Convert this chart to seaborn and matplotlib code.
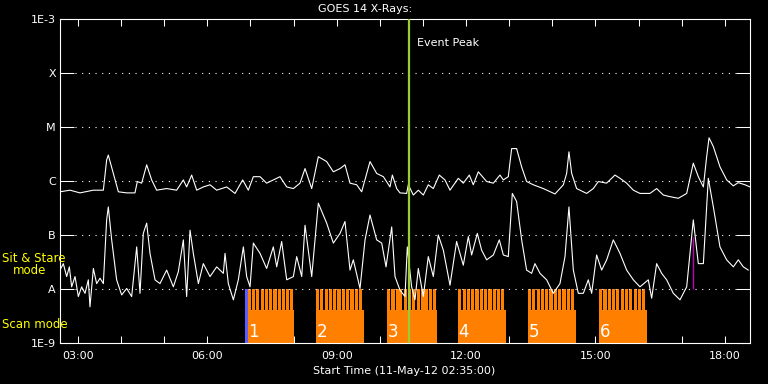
import numpy as np
import pandas as pd
import seaborn as sns
import matplotlib
matplotlib.use("Agg")
import matplotlib.pyplot as plt
import matplotlib.dates as mdates
from matplotlib.ticker import NullLocator

# all times are minutes after the plot start (11-May-12 02:35:00)
t0 = pd.Timestamp("2012-05-11 02:35:00")
t_span = 960

# GOES 14 long channel (1-8 A), log10 flux in W/m^2
long_min = [0, 13.9, 27.8, 46.4, 60.3, 64.9, 67.2, 74.2, 81.2, 92.8,
            104.3, 107.6, 113.6, 120.6, 127.5, 134.5, 148.4, 162.3, 171.6, 176.2,
            183.2, 190.2, 199.4, 208.7, 218.0, 231.9, 243.5, 254.2, 262.0, 269.0,
            278.3, 287.5, 296.8, 306.1, 315.4, 324.7, 333.9, 340.9, 350.2, 359.4,
            371.0, 380.3, 389.6, 396.5, 403.5, 412.8, 419.7, 431.3, 440.6, 449.9,
            459.1, 462.4, 468.4, 473.0, 482.3, 484.6, 491.6, 498.5, 505.5, 512.4,
            519.4, 527.7, 535.6, 542.6, 554.2, 561.1, 569.5, 575.0, 582.0, 593.6,
            602.9, 612.1, 616.8, 623.7, 628.4, 635.3, 642.3, 649.2, 658.5, 672.4,
            688.7, 700.3, 704.9, 708.1, 711.9, 718.8, 732.7, 742.0, 749.0, 760.5,
            772.1, 779.1, 788.4, 797.7, 806.9, 820.8, 830.1, 839.4, 848.7, 860.3,
            871.9, 881.1, 888.1, 895.1, 899.7, 903.0, 908.9, 918.3, 927.6, 936.8,
            943.7, 953.0, 960.0]
long_log = [-6.20, -6.17, -6.22, -6.17, -6.17, -5.61, -5.52, -5.86, -6.20, -6.22,
            -6.22, -6.01, -6.04, -5.70, -5.98, -6.17, -6.14, -6.17, -5.98, -6.11,
            -5.89, -6.17, -6.11, -6.07, -6.17, -6.11, -6.23, -5.98, -6.17, -5.92,
            -5.92, -6.04, -5.98, -5.92, -6.11, -6.14, -6.04, -5.77, -6.14, -5.55,
            -5.64, -5.83, -5.77, -5.70, -6.04, -6.07, -6.20, -5.64, -5.86, -5.92,
            -6.11, -5.89, -6.14, -6.22, -6.23, -6.07, -6.26, -6.17, -6.26, -6.07,
            -6.14, -5.89, -5.98, -6.17, -5.95, -6.04, -5.89, -6.07, -5.83, -6.01,
            -6.04, -5.89, -5.98, -5.92, -5.40, -5.40, -5.74, -6.01, -6.07, -6.14,
            -6.24, -6.07, -5.86, -5.46, -5.86, -6.14, -6.23, -6.14, -6.01, -6.04,
            -5.89, -5.95, -6.04, -6.17, -6.23, -6.23, -6.14, -6.26, -6.29, -6.32,
            -6.23, -5.67, -5.92, -6.11, -5.55, -5.20, -5.36, -5.74, -5.98, -6.09,
            -6.03, -6.07, -6.11]

# GOES 14 short channel (0.5-4 A)
short_min = [0.0, 4.6, 9.3, 13.0, 16.2, 20.9, 25.5, 30.1, 34.8, 39.4,
             41.7, 46.4, 51.0, 55.7, 60.3, 64.9, 67.2, 71.9, 78.8, 85.8,
             92.8, 99.7, 106.7, 111.3, 115.9, 120.6, 125.2, 132.2, 139.1, 148.4,
             157.7, 164.6, 171.6, 176.2, 180.9, 185.5, 192.5, 199.4, 208.7, 218.0,
             227.3, 229.6, 234.2, 241.2, 248.1, 255.1, 259.7, 264.4, 269.0, 278.3,
             287.5, 296.8, 301.5, 308.4, 315.4, 324.7, 329.3, 336.3, 340.9, 350.2,
             359.4, 371.0, 380.3, 389.6, 396.5, 403.5, 408.1, 417.4, 424.4, 431.3,
             440.6, 447.6, 453.6, 461.5, 466.1, 473.0, 480.0, 483.2, 489.2, 493.9,
             498.5, 505.5, 512.4, 519.4, 526.3, 533.3, 542.6, 551.8, 561.1, 568.1,
             572.7, 580.6, 586.6, 593.6, 602.9, 611.2, 616.8, 623.7, 629.3, 635.3,
             642.3, 649.2, 656.2, 660.8, 667.8, 677.1, 686.3, 695.6, 702.6, 708.1,
             714.2, 721.1, 728.1, 735.0, 739.7, 746.6, 753.6, 760.6, 769.8, 779.1,
             788.4, 797.7, 806.9, 818.5, 823.2, 830.1, 837.1, 844.0, 853.3, 862.6,
             871.9, 881.1, 888.1, 895.1, 902.0, 909.0, 918.2, 927.5, 936.8, 943.7,
             950.7, 957.7]
short_log = [-7.65, -7.53, -7.77, -7.59, -7.96, -7.77, -8.14, -7.96, -8.08, -7.83,
             -8.33, -7.62, -7.90, -7.80, -7.90, -6.72, -6.48, -7.09, -7.83, -8.11,
             -7.99, -8.14, -7.22, -8.08, -6.97, -6.78, -7.34, -7.83, -7.90, -7.65,
             -7.96, -7.68, -7.09, -8.14, -6.91, -7.34, -7.90, -7.53, -7.77, -7.59,
             -7.71, -7.34, -7.90, -8.20, -7.83, -7.22, -7.77, -7.96, -7.15, -7.34,
             -7.62, -7.22, -7.59, -7.12, -7.83, -7.77, -7.40, -7.77, -6.82, -7.77,
             -6.41, -6.78, -7.15, -6.97, -6.75, -7.65, -7.46, -7.99, -7.09, -6.63,
             -7.09, -7.15, -7.59, -6.85, -7.77, -8.02, -8.14, -7.22, -7.96, -8.20,
             -7.62, -8.14, -7.40, -7.77, -7.00, -7.28, -7.93, -7.12, -7.56, -7.03,
             -7.37, -6.97, -7.28, -7.46, -7.37, -7.09, -7.37, -7.40, -6.23, -6.38,
             -7.09, -7.65, -7.71, -7.53, -7.71, -7.83, -8.08, -7.90, -7.40, -6.48,
             -7.65, -8.08, -8.08, -7.83, -8.08, -7.37, -7.65, -7.46, -7.09, -7.34,
             -7.65, -7.83, -7.96, -7.83, -8.17, -7.53, -7.71, -7.83, -8.08, -8.20,
             -7.96, -6.72, -7.53, -7.53, -5.95, -6.48, -7.22, -7.46, -7.59, -7.46,
             -7.59, -7.65]

# IRIS observing blocks (scan mode) and their sit & stare rasters
block_start = [261.1, 356.2, 455.0, 553.7, 651.1, 749.9]
block_end = [325.6, 423.0, 524.5, 620.5, 717.9, 816.7]
block_label = ["1", "2", "3", "4", "5", "6"]
raster_start = [
    [261, 267, 273, 279, 285, 291, 297, 303, 309, 314, 320],
    [356, 362, 368, 374, 380, 386, 392, 398, 404, 410, 416],
    [455, 461, 467, 472, 478, 484, 490, 496, 502, 507, 513, 519],
    [554, 560, 566, 572, 578, 584, 590, 596, 602, 608, 614],
    [651, 657, 663, 669, 675, 681, 687, 693, 699, 705, 711],
    [750, 756, 762, 768, 774, 780, 786, 792, 798, 804, 810],
]
raster_len = 4.4
stare_start, stare_end = 257.4, 261.1
event_peak = 485.6
flare_mark = 880.7
flare_mark_top = -7.04

level_val = [1e-9, 1e-8, 1e-7, 1e-6, 1e-5, 1e-4, 1e-3]
level_lab = ["1E-9", "A", "B", "C", "M", "X", "1E-3"]


def tnum(m):
    return mdates.date2num(t0 + pd.to_timedelta(np.asarray(m, dtype=float), unit="m"))


def tdays(m):
    return np.asarray(m, dtype=float) / 1440.0


sns.set_style("dark", {"axes.facecolor": "black", "figure.facecolor": "black",
                       "axes.edgecolor": "white", "text.color": "white",
                       "xtick.color": "white", "ytick.color": "white"})
plt.rcParams["font.family"] = ["DejaVu Sans"]

fig = plt.figure(figsize=(7.68, 3.84), dpi=100, facecolor="black")
ax = fig.add_axes([60 / 768, 41 / 384, 690 / 768, 324 / 384])
ax.set_facecolor("black")
ax.set_yscale("log")

# observing blocks
for i in range(len(block_start)):
    s, e = block_start[i], block_end[i]
    ax.bar(tnum([s])[0], 10 ** -8.39 - 1e-9, width=tdays(e - s), bottom=1e-9,
           align="edge", color="#ff8000", linewidth=0, zorder=1)
    for r in raster_start[i]:
        ax.bar(tnum([r])[0], 1e-8 - 10 ** -8.39, width=tdays(raster_len),
               bottom=10 ** -8.39, align="edge", color="#ff8000", linewidth=0,
               zorder=1, antialiased=False)
    ax.text(tnum([s + 1.0])[0], 10 ** -8.8, block_label[i], color="white",
            fontsize=12, ha="left", va="center", zorder=5)
ax.bar(tnum([stare_start])[0], 1e-8 - 1e-9, width=tdays(stare_end - stare_start),
       bottom=1e-9, align="edge", color="#5c5cff", linewidth=0, zorder=2)

for lv in level_val[1:-1]:
    ax.axhline(lv, xmin=0.022, xmax=0.98, color="white", lw=0.8,
               ls=(0, (1, 5)), zorder=2)

df_long = pd.DataFrame({"time": tnum(long_min), "flux": 10 ** np.array(long_log)})
df_short = pd.DataFrame({"time": tnum(short_min), "flux": 10 ** np.array(short_log)})
sns.lineplot(data=df_long, x="time", y="flux", color="white", lw=0.8,
             estimator=None, sort=False, ax=ax, zorder=3)
sns.lineplot(data=df_short, x="time", y="flux", color="white", lw=0.8,
             estimator=None, sort=False, ax=ax, zorder=3)

ax.axvline(tnum([event_peak])[0], color="#9acd32", lw=1.6, zorder=4)
ax.annotate("Event Peak", xy=(tnum([event_peak])[0], 10 ** -3.44), xytext=(6, 0),
            textcoords="offset points", color="white", fontsize=8, va="center")
ax.vlines(tnum([flare_mark])[0], 1e-8, 10 ** flare_mark_top, color="#c000c0",
          lw=1.0, zorder=4)

ax.set_xlim(tnum([0])[0], tnum([t_span])[0])
ax.set_ylim(1e-9, 1e-3)
ax.set_yticks(level_val)
ax.set_yticklabels(level_lab)
ax.yaxis.set_minor_locator(NullLocator())
ax.xaxis.set_major_locator(mdates.HourLocator(byhour=range(0, 24, 3)))
ax.xaxis.set_major_formatter(mdates.DateFormatter("%H:%M"))
ax.xaxis.set_minor_locator(mdates.HourLocator())
ax.tick_params(axis="x", which="both", direction="in", length=4.8, width=0.75,
               colors="white", top=True, bottom=True, labelsize=8, pad=6)
ax.tick_params(axis="y", which="major", direction="in", length=10, width=0.75,
               colors="white", left=True, right=True, labelsize=8, pad=3)
ax.set_xlabel("")
ax.set_ylabel("")
ax.grid(False)
for sp in ax.spines.values():
    sp.set_color("white")
    sp.set_linewidth(0.8)

fig.text(365 / 768, 1 - 9 / 384, "GOES 14 X-Rays:", color="white", fontsize=8,
         ha="center", va="center")
fig.text(404 / 768, 1 - 371 / 384, "Start Time (11-May-12 02:35:00)", color="white",
         fontsize=8, ha="center", va="center")
fig.text(2 / 768, 1 - 259 / 384, "Sit & Stare", color="yellow", fontsize=8.5,
         ha="left", va="center", zorder=6)
fig.text(13 / 768, 1 - 271 / 384, "mode", color="yellow", fontsize=8.5,
         ha="left", va="center", zorder=6)
fig.text(2 / 768, 1 - 324 / 384, "Scan mode", color="yellow", fontsize=8.5,
         ha="left", va="center", zorder=6)

fig.savefig("out.png", dpi=100, facecolor="black")
